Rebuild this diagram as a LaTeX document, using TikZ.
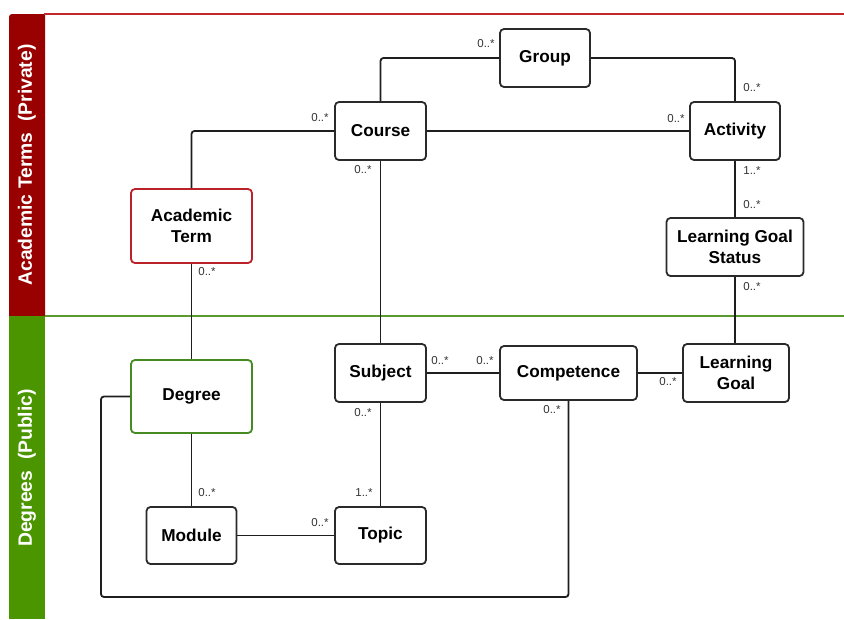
\documentclass[tikz,border=0pt]{standalone}
\usepackage{fontspec}
\setmainfont{Liberation Sans}
\definecolor{lanered}{HTML}{990000}
\definecolor{redline}{HTML}{C1272D}
\definecolor{lanegreen}{HTML}{4B9600}
\definecolor{greenline}{HTML}{5A9A30}
\definecolor{termred}{HTML}{B82228}
\definecolor{degreegreen}{HTML}{468A22}
\definecolor{boxgray}{HTML}{2A2A2A}
\definecolor{linec}{HTML}{1E1E1E}
\definecolor{multc}{HTML}{333333}
\begin{document}
\begin{tikzpicture}[x=1pt,y=-1pt,
  box/.style={draw=boxgray, line width=1.8pt, rounded corners=4pt, fill=white,
    font=\bfseries\fontsize{17.2}{20.5}\selectfont, align=center, inner sep=0pt, text=black},
  conn/.style={draw=linec, line width=1.8pt, rounded corners=3pt},
  mult/.style={font=\fontsize{11.5}{12}\selectfont, text=multc, inner sep=0pt},
  lanetitle/.style={text=white, font=\bfseries\fontsize{19.3}{22}\selectfont, rotate=90, inner sep=0pt}]
\useasboundingbox (0,0) rectangle (844,619);

% lanes
\fill[lanered] (9,316) [rounded corners=3pt]-- (9,14) [sharp corners]-- (45,14) -- (45,316) -- cycle;
\fill[lanegreen] (9,316) rectangle (45,619);
\draw[redline, line width=2.2pt] (44,14) -- (844,14);
\draw[greenline, line width=1.6pt] (45,316) -- (844,316);
\node[lanetitle] (lane1) at (27,165) {Academic Terms\ \ (Private)};
\node[lanetitle] (lane2) at (27,468) {Degrees\ \ (Public)};

% nodes
\node[box, minimum width=90pt, minimum height=58pt] (group) at (545,58) {Group};
\node[box, minimum width=91pt, minimum height=58pt] (course) at (380.5,131) {Course};
\node[box, minimum width=90pt, minimum height=58pt] (activity) at (735,131) {Activity};
\node[box, minimum width=137pt, minimum height=58pt] (lgs) at (735,247) {Learning Goal\\Status};
\node[box, draw=termred, minimum width=121pt, minimum height=74pt] (acterm) at (191.5,226) {Academic\\Term};
\node[box, draw=degreegreen, minimum width=121pt, minimum height=73pt] (degree) at (191.5,396.5) {Degree};
\node[box, minimum width=91pt, minimum height=58pt] (subject) at (380.5,373) {Subject};
\node[box, minimum width=137pt, minimum height=54pt] (competence) at (568.5,373) {Competence};
\node[box, minimum width=106pt, minimum height=58pt] (lgoal) at (736,373) {Learning\\Goal};
\node[box, minimum width=90pt, minimum height=57pt] (module) at (191.5,535.5) {Module};
\node[box, minimum width=91pt, minimum height=57pt] (topic) at (380.5,535.5) {Topic};
\coordinate (corner) at (101,597);

% connectors
\draw[conn] (course.north) |- (group.west);
\draw[conn] (group.east) -| (activity.north);
\draw[conn] (course.west) -| (acterm.north);
\draw[conn, line width=2.4pt] (course.east) -- (activity.west);
\draw[conn] (course.south) -- (subject.north);
\draw[conn] (activity.south) -- (lgs.north);
\draw[conn] (lgs.south) -- (lgs.south |- lgoal.north);
\draw[conn] (acterm.south) -- (degree.north);
\draw[conn] (degree.south) -- (module.north);
\draw[conn] (module.east) -- (topic.west);
\draw[conn] (subject.south) -- (topic.north);
\draw[conn] (subject.east) -- (competence.west);
\draw[conn] (competence.east) -- (lgoal.west);
\draw[conn] (degree.west) -| (corner) -| (competence.south);

% multiplicities
\node[mult] (m1) at (486,44) {0..*};
\node[mult] (m2) at (752,88) {0..*};
\node[mult] (m3) at (320,118) {0..*};
\node[mult] (m4) at (676,119) {0..*};
\node[mult] (m5) at (363,170) {0..*};
\node[mult] (m6) at (752,171) {1..*};
\node[mult] (m7) at (752,205) {0..*};
\node[mult] (m8) at (752,287) {0..*};
\node[mult] (m9) at (207,272) {0..*};
\node[mult] (m10) at (363,413) {0..*};
\node[mult] (m11) at (440,361) {0..*};
\node[mult] (m12) at (485,361) {0..*};
\node[mult] (m13) at (668,382) {0..*};
\node[mult] (m14) at (552,410) {0..*};
\node[mult] (m15) at (207,493) {0..*};
\node[mult] (m16) at (364,493) {1..*};
\node[mult] (m17) at (320,523) {0..*};
\end{tikzpicture}
\end{document}
